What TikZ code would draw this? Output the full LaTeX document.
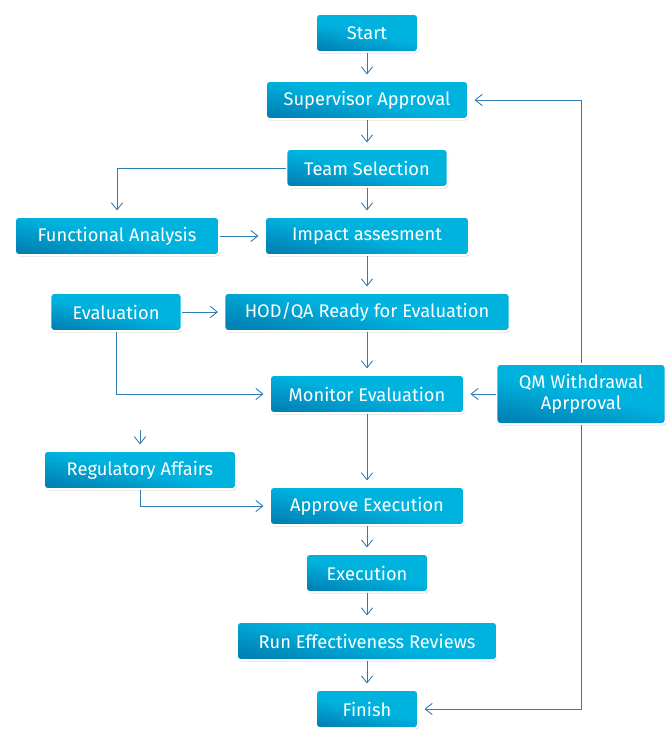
\documentclass[tikz,border=0pt]{standalone}
\usepackage{fontspec}
\setmainfont{Fira Sans}
\usepackage{tikz}
\usetikzlibrary{positioning}
\usetikzlibrary{shadows}
\usetikzlibrary{arrows.meta}
\definecolor{boxlight}{HTML}{00B2DE}
\definecolor{boxdark}{HTML}{0082B5}
\definecolor{linkblue}{HTML}{2E7DB2}

\begin{document}
\begin{tikzpicture}[stage/.style={draw=white, line width=1.3pt, rectangle, rounded corners=2.5pt, minimum height=0.95cm, inner sep=2pt,
			top color=boxlight, bottom color=boxdark, middle color=boxlight, shading angle=-12, text=white, font=\fontsize{13}{15}\selectfont,
			drop shadow={shadow xshift=0.5pt, shadow yshift=-1pt, opacity=0.4, fill=black!50}},
			link/.style={->, >={Straight Barb[length=5pt, width=8pt]}, draw=linkblue, line width=0.6pt, shorten >=4pt},
			every text node part/.style={align=center}]
			\useasboundingbox (0, 0) rectangle (16.725, -18.225);
			
			\node[stage, minimum width=2.55cm](start) at (9.175, -0.825) {Start};
			\node[stage, minimum width=5.05cm](supervisor) at (9.175, -2.5) {Supervisor Approval};
			\draw[link] (start) edge (supervisor);
			
			\node[stage, minimum width=4.025cm](team) at (9.175, -4.2) {Team Selection};
			\draw[link] (supervisor) edge (team);
			
			\node[stage, minimum width=5.1cm](functional) at (2.925, -5.9) {Functional Analysis};
			\node[stage, minimum width=5.1cm](impact) at (9.175, -5.9) {Impact assesment};
			\draw[link] (team.west) -| (functional.north);
			\draw[link] (team) edge (impact);
			\draw[link] (functional) edge (impact);
			
			\node[stage, minimum width=3.275cm](evaluation) at (2.9, -7.8) {Evaluation};
			\node[stage, minimum width=7.125cm](hodqa) at (9.175, -7.8) {HOD/QA Ready for Evaluation};
			\draw[link] (impact) edge (hodqa);
			\draw[link] (evaluation) edge (hodqa);
			
			\node[stage, minimum width=4.85cm](monitor) at (9.175, -9.85) {Monitor Evaluation};
			\node[stage, minimum width=4.225cm, minimum height=1.5cm](withdrawal) at (14.525, -9.85) {QM Withdrawal \\ Aprproval};
			\draw[link] (hodqa) edge (monitor);
			\draw[link] (evaluation.south) |- (monitor.west);
			\draw[link] (withdrawal) edge (monitor);
			\draw[link] (withdrawal.north) |- (supervisor.east);
			
			\coordinate (regin) at (3.5, -10.75);
			\node[stage, minimum width=4.8cm](regulatory) at (3.5, -11.75) {Regulatory Affairs};
			\node[stage, minimum width=4.85cm](approve) at (9.175, -12.65) {Approve Execution};
			\draw[link] (regin) -- (regulatory.north);
			\draw[link] (monitor) edge (approve);
			\draw[link] (regulatory.south) |- (approve.west);
			
			\node[stage, minimum width=3.05cm](execution) at (9.175, -14.325) {Execution};
			\draw[link] (approve) edge (execution);
			
			\node[stage, minimum width=6.5cm](reviews) at (9.175, -16.025) {Run Effectiveness Reviews};
			\draw[link] (execution) edge (reviews);
			
			\node[stage, minimum width=2.55cm](finish) at (9.175, -17.725) {Finish};
			\draw[link] (reviews) edge (finish);
			\draw[link] (withdrawal.south) |- (finish.east);
			\end{tikzpicture}
\end{document}
